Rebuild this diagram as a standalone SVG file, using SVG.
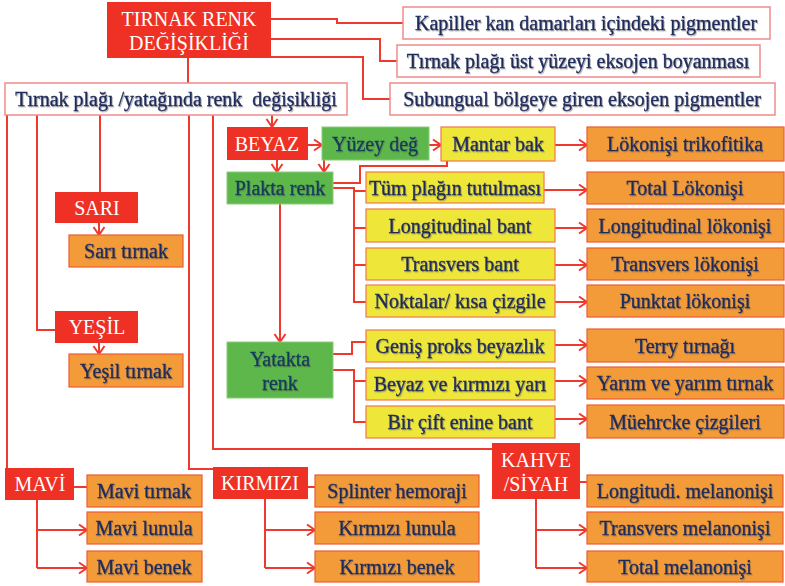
<svg xmlns="http://www.w3.org/2000/svg" width="785" height="586" viewBox="0 0 785 586">
<style>
text{font-family:"Liberation Serif","Times New Roman",serif;font-size:20px;text-anchor:middle;white-space:pre}
.r{fill:#EE3124}
.g{fill:#5DB74A;stroke:#8CCB7A;stroke-width:1}
.y{fill:#EEE73A;stroke:#F2784B;stroke-width:1.2}
.o{fill:#F39B38;stroke:#EE5B35;stroke-width:1.2}
.w{fill:#FFFFFF;stroke:#F08A8A;stroke-width:1.5}
.tw{fill:#FFFFFF}
.td{fill:#1E2A5C;stroke:#1E2A5C;stroke-width:0.35;filter:url(#sh)}
.tg{fill:#123E5A;stroke:#123E5A;stroke-width:0.35;filter:url(#sh)}
.c path{fill:none;stroke:#EE3A2D;stroke-width:2}
.a{marker-end:url(#ar)}
</style>
<defs>
<filter id="sh" x="-10%" y="-30%" width="120%" height="160%">
<feDropShadow dx="1" dy="1.2" stdDeviation="0.7" flood-color="#555" flood-opacity="0.45"/>
</filter>
<marker id="ar" markerUnits="userSpaceOnUse" markerWidth="14" markerHeight="14" refX="10" refY="7" orient="auto">
<path d="M2,1.5 L10,7 L2,12.5" fill="none" stroke="#EE3A2D" stroke-width="2"/>
</marker>
</defs>
<g class="c" id="connectors">
<path d="M271,19 H337 V23 H403"/>
<path d="M271,39 H380 V61 H397"/>
<path d="M271,57 H363 V99 H390"/>
<path d="M188,58 V83"/>
<path d="M7,115 V468"/>
<path d="M37,115 V330 H55"/>
<path d="M100,115 V192"/>
<path d="M189,115 V469 H213"/>
<path d="M213,115 V449 H492"/>
<path class="a" d="M272,115 V127"/>
<path class="a" d="M99,223 V235"/>
<path class="a" d="M99,343 V354"/>
<path d="M74,487 H87"/>
<path d="M37,500 V568"/>
<path class="a" d="M37,530 H87"/>
<path class="a" d="M37,568 H87"/>
<path d="M308,487 H315"/>
<path d="M265,499 V568"/>
<path class="a" d="M265,530 H315"/>
<path class="a" d="M265,568 H315"/>
<path d="M580,482 H587"/>
<path d="M536,499 V568"/>
<path class="a" d="M536,530 H587"/>
<path class="a" d="M536,568 H587"/>
<path class="a" d="M308,145 H322"/>
<path class="a" d="M429,145 H441"/>
<path class="a" d="M555,145 H587"/>
<path class="a" d="M277,160 V172"/>
<path class="a" d="M324,160 V172"/>
<path d="M447,161 V166 H360 V183 H333"/>
<path d="M333,188 H354 V302 H366"/>
<path d="M354,191 H366"/>
<path d="M354,228 H366"/>
<path d="M354,265 H366"/>
<path class="a" d="M544,190 H587"/>
<path class="a" d="M555,228 H587"/>
<path class="a" d="M555,265 H587"/>
<path class="a" d="M555,302 H587"/>
<path class="a" d="M280,204 V342"/>
<path d="M333,354 H352 V342 H366"/>
<path d="M333,370 H354 V422 H366"/>
<path d="M354,381 H366"/>
<path class="a" d="M555,345 H587"/>
<path class="a" d="M555,381 H587"/>
<path class="a" d="M555,419 H587"/>
</g>
<g id="n-root"><rect class="r" x="107" y="2" width="164" height="56"/><text class="tw" x="189" y="26" font-size="23">TIRNAK RENK</text><text class="tw" x="189" y="50" font-size="23">DEĞİŞİKLİĞİ</text></g>
<g id="n-kapiller"><rect class="w" x="403" y="7" width="367" height="32"/><text class="td" x="586" y="30">Kapiller kan damarları içindeki pigmentler</text></g>
<g id="n-ust"><rect class="w" x="397" y="45" width="363" height="32"/><text class="td" x="578" y="68">Tırnak plağı üst yüzeyi eksojen boyanması</text></g>
<g id="n-subungual"><rect class="w" x="390" y="83" width="385" height="32"/><text class="td" x="582" y="106">Subungual bölgeye giren eksojen pigmentler</text></g>
<g id="n-plak"><rect class="w" x="5" y="83" width="342" height="32"/><text class="td" x="176" y="106">Tırnak plağı /yatağında renk  değişikliği</text></g>
<g id="n-sari"><rect class="r" x="55" y="192" width="83" height="31"/><text class="tw" x="97" y="215">SARI</text></g>
<g id="n-saritirnak"><rect class="o" x="69" y="235" width="114" height="32"/><text class="td" x="126" y="258">Sarı tırnak</text></g>
<g id="n-yesil"><rect class="r" x="55" y="311" width="83" height="32"/><text class="tw" x="97" y="334">YEŞİL</text></g>
<g id="n-yesiltirnak"><rect class="o" x="69" y="354" width="114" height="33"/><text class="td" x="126" y="378">Yeşil tırnak</text></g>
<g id="n-mavi"><rect class="r" x="5" y="468" width="69" height="32"/><text class="tw" x="40" y="491">MAVİ</text></g>
<g id="n-mavitirnak"><rect class="o" x="87" y="475" width="115" height="32"/><text class="td" x="144" y="498">Mavi tırnak</text></g>
<g id="n-mavilunula"><rect class="o" x="87" y="512" width="115" height="32"/><text class="td" x="144" y="535">Mavi lunula</text></g>
<g id="n-mavibenek"><rect class="o" x="87" y="551" width="115" height="31"/><text class="td" x="144" y="574">Mavi benek</text></g>
<g id="n-kirmizi"><rect class="r" x="213" y="467" width="95" height="32"/><text class="tw" x="260" y="490">KIRMIZI</text></g>
<g id="n-splinter"><rect class="o" x="315" y="475" width="164" height="32"/><text class="td" x="397" y="498">Splinter hemoraji</text></g>
<g id="n-klunula"><rect class="o" x="315" y="512" width="164" height="32"/><text class="td" x="397" y="535">Kırmızı lunula</text></g>
<g id="n-kbenek"><rect class="o" x="315" y="551" width="164" height="31"/><text class="td" x="397" y="574">Kırmızı benek</text></g>
<g id="n-kahve"><rect class="r" x="492" y="443" width="88" height="56"/><text class="tw" x="536" y="467">KAHVE</text><text class="tw" x="536" y="491">/SİYAH</text></g>
<g id="n-longmel"><rect class="o" x="587" y="475" width="196" height="32"/><text class="td" x="685" y="498">Longitudi. melanonişi</text></g>
<g id="n-transmel"><rect class="o" x="587" y="512" width="196" height="32"/><text class="td" x="685" y="535">Transvers melanonişi</text></g>
<g id="n-totalmel"><rect class="o" x="587" y="551" width="196" height="31"/><text class="td" x="685" y="574">Total melanonişi</text></g>
<g id="n-beyaz"><rect class="r" x="227" y="127" width="81" height="33"/><text class="tw" x="267" y="151">BEYAZ</text></g>
<g id="n-yuzey"><rect class="g" x="322" y="127" width="107" height="33"/><text class="tg" x="375" y="151">Yüzey değ</text></g>
<g id="n-mantar"><rect class="y" x="441" y="127" width="114" height="34"/><text class="td" x="498" y="151">Mantar bak</text></g>
<g id="n-trikofitika"><rect class="o" x="587" y="127" width="197" height="34"/><text class="td" x="685" y="151">Lökonişi trikofitika</text></g>
<g id="n-plakta"><rect class="g" x="227" y="172" width="106" height="32"/><text class="tg" x="280" y="195">Plakta renk</text></g>
<g id="n-tum"><rect class="y" x="366" y="172" width="178" height="31"/><text class="td" x="455" y="195">Tüm plağın tutulması</text></g>
<g id="n-longbant"><rect class="y" x="366" y="209" width="189" height="33"/><text class="td" x="460" y="233">Longitudinal bant</text></g>
<g id="n-transbant"><rect class="y" x="366" y="248" width="189" height="32"/><text class="td" x="460" y="271">Transvers bant</text></g>
<g id="n-noktalar"><rect class="y" x="366" y="285" width="189" height="32"/><text class="td" x="460" y="308">Noktalar/ kısa çizgile</text></g>
<g id="n-totallok"><rect class="o" x="587" y="172" width="197" height="32"/><text class="td" x="685" y="195">Total Lökonişi</text></g>
<g id="n-longlok"><rect class="o" x="587" y="209" width="197" height="33"/><text class="td" x="685" y="233">Longitudinal lökonişi</text></g>
<g id="n-translok"><rect class="o" x="587" y="248" width="197" height="32"/><text class="td" x="685" y="271">Transvers lökonişi</text></g>
<g id="n-punktat"><rect class="o" x="587" y="285" width="197" height="32"/><text class="td" x="685" y="308">Punktat lökonişi</text></g>
<g id="n-yatakta"><rect class="g" x="227" y="342" width="106" height="56"/><text class="tg" x="280" y="366">Yatakta</text><text class="tg" x="280" y="390">renk</text></g>
<g id="n-genis"><rect class="y" x="366" y="330" width="189" height="32"/><text class="td" x="460" y="353">Geniş proks beyazlık</text></g>
<g id="n-beyazve"><rect class="y" x="366" y="368" width="189" height="32"/><text class="td" x="460" y="391">Beyaz ve kırmızı yarı</text></g>
<g id="n-bircift"><rect class="y" x="366" y="406" width="189" height="32"/><text class="td" x="460" y="429">Bir çift enine bant</text></g>
<g id="n-terry"><rect class="o" x="587" y="329" width="197" height="33"/><text class="td" x="685" y="353">Terry tırnağı</text></g>
<g id="n-yarim"><rect class="o" x="587" y="367" width="197" height="32"/><text class="td" x="685" y="390">Yarım ve yarım tırnak</text></g>
<g id="n-muehrcke"><rect class="o" x="587" y="405" width="197" height="33"/><text class="td" x="685" y="429">Müehrcke çizgileri</text></g>
</svg>
